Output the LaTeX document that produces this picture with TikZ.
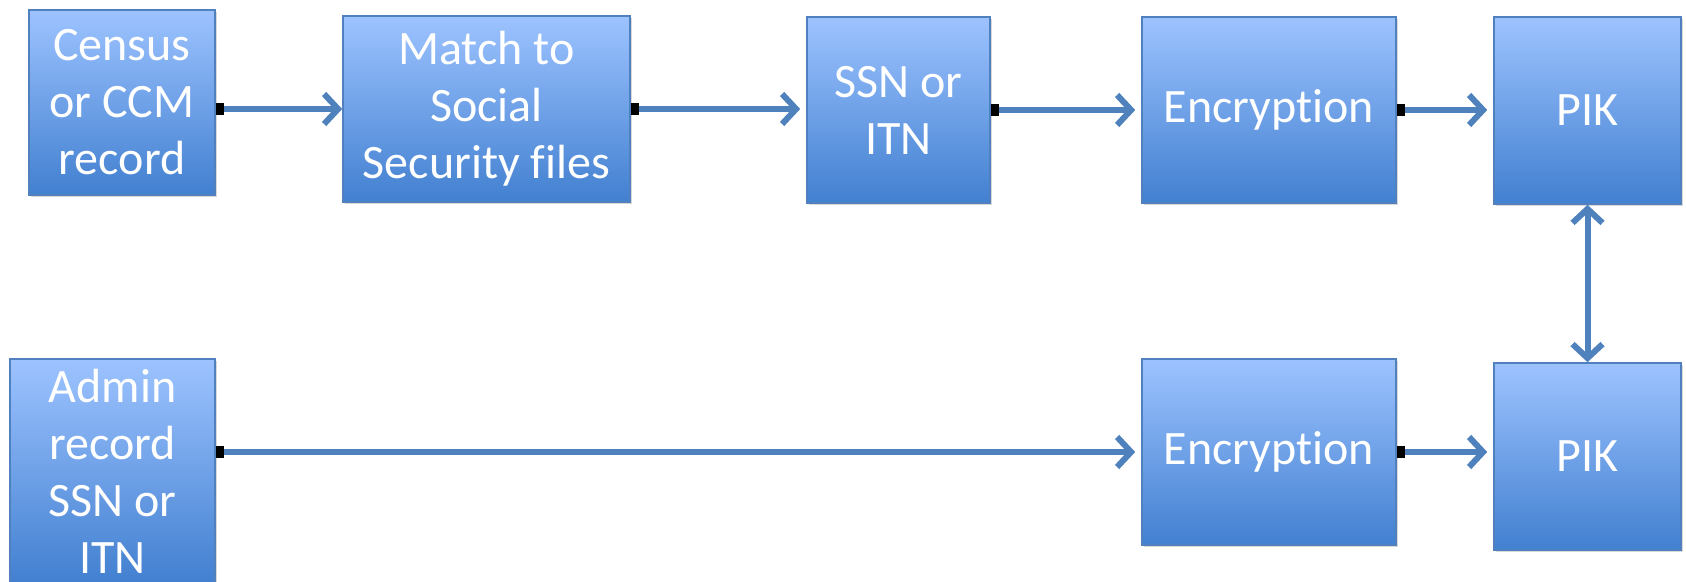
\documentclass[tikz,border=0pt]{standalone}
\usepackage{fontspec}
\setmainfont{Carlito}[Ligatures=NoCommon]
\usetikzlibrary{arrows.meta,shadows}
\definecolor{boxtop}{RGB}{157,195,255}
\definecolor{boxbottom}{RGB}{66,128,208}
\definecolor{boxline}{RGB}{80,128,190}
\definecolor{linkblue}{RGB}{79,129,189}
\tikzset{
  stage/.style={draw=boxline, line width=0.8pt, top color=boxtop, bottom color=boxbottom,
    text=white, align=center, inner sep=0pt, font=\fontsize{24}{28.5}\selectfont,
    drop shadow={shadow xshift=0.8pt, shadow yshift=-1.2pt, opacity=0.3}},
  link/.style={linkblue, line width=3pt,
    {Square[black,length=4pt,width=6pt]}-{Straight Barb[length=7pt,width=15pt]}},
  vlink/.style={linkblue, line width=3pt,
    {Straight Barb[length=7pt,width=15pt]}-{Straight Barb[length=7pt,width=15pt]}},
}
\begin{document}
\begin{tikzpicture}[x=0.5pt, y=-0.5pt]
  \useasboundingbox (0,0) rectangle (1686,582);
  % top row
  \node[stage, minimum width=93pt, minimum height=92.5pt] (census) at (122,102.5) {Census\\or CCM\\record};
  \node[stage, minimum width=143.5pt, minimum height=93pt] (match) at (486.5,109) {Match to\\Social\\Security files};
  \node[stage, minimum width=91.5pt, minimum height=93pt] (ssn) at (898.5,110) {SSN or\\ITN};
  \node[stage, minimum width=127pt, minimum height=93pt] (enctop) at (1269,110) {Encryption};
  \node[stage, minimum width=93.5pt, minimum height=93.5pt] (piktop) at (1587.5,110.5) {PIK};
  % bottom row
  \node[stage, minimum width=102.5pt, minimum height=112pt] (admin) at (112.5,471) {Admin\\record\\SSN or\\ITN};
  \node[stage, minimum width=127pt, minimum height=93pt] (encbot) at (1269,452) {Encryption};
  \node[stage, minimum width=93.5pt, minimum height=93.5pt] (pikbot) at (1587.5,456.5) {PIK};
  % connectors
  \draw[link] (census.east |- match.west) -- (match.west);
  \draw[link, shorten >=3pt] (match.east) -- (match.east -| ssn.west);
  \draw[link, shorten >=3pt] (ssn.east) -- (enctop.west);
  \draw[link, shorten >=3pt] (enctop.east) -- (enctop.east -| piktop.west);
  \draw[link, shorten >=3pt] (admin.east |- encbot.west) -- (encbot.west);
  \draw[link, shorten >=3pt] (encbot.east) -- (encbot.east -| pikbot.west);
  \draw[vlink] (piktop.south) -- (pikbot.north);
\end{tikzpicture}
\end{document}
